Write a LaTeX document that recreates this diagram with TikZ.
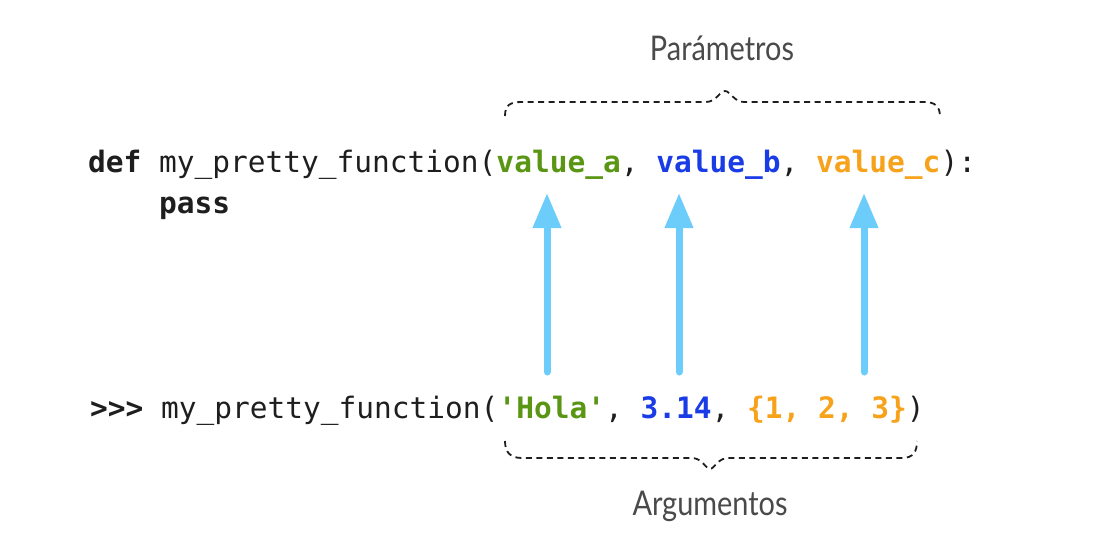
\documentclass[tikz,border=0pt]{standalone}
\usepackage{fontspec}
\setmonofont{DejaVu Sans Mono}
\newfontfamily\labelfont[FakeStretch=0.85]{Lato}
\usetikzlibrary{arrows.meta}

\definecolor{codeink}{HTML}{1E1E1E}
\definecolor{pgreen}{HTML}{5A9614}
\definecolor{pblue}{HTML}{1A3CE6}
\definecolor{porange}{HTML}{F7A21B}
\definecolor{flow}{HTML}{6CCDFA}
\definecolor{notegray}{HTML}{4A4A4A}

\begin{document}
\begin{tikzpicture}[x=1pt,y=-1pt,
  code/.style={inner sep=0pt, outer sep=0pt, anchor=base west, text=codeink,
    font=\fontsize{29.5}{35}\selectfont\ttfamily},
  kw/.style={code, font=\fontsize{29.5}{35}\selectfont\ttfamily\bfseries},
  param/.style={kw, text=#1},
  flowarrow/.style={draw=flow, line width=7pt, line cap=round,
    -{Triangle[width=27pt,length=35pt]}},
  bracepath/.style={draw=codeink, line width=1.8pt, dash pattern=on 6pt off 4.5pt},
  note/.style={inner sep=0pt, text=notegray, font=\fontsize{34}{40}\selectfont\labelfont}]

  \useasboundingbox (0,0) rectangle (1093,546);

  % function definition
  \node[kw] (def) at (88,172) {def};
  \node[code] (fname) at (def.base east) {\ my\_pretty\_function(};
  \node[param=pgreen] (pa) at (fname.base east) {value\_a};
  \node[code] (c1) at (pa.base east) {,\ \null};
  \node[param=pblue] (pb) at (c1.base east) {value\_b};
  \node[code] (c2) at (pb.base east) {,\ \null};
  \node[param=porange] (pc) at (c2.base east) {value\_c};
  \node[code] (close) at (pc.base east) {):};
  \node[kw] (pass) at (159,213) {pass};

  % function call
  \node[kw] (prompt) at (90,418) {>{}>{}>};
  \node[code] (cname) at (prompt.base east) {\ my\_pretty\_function(};
  \node[param=pgreen] (aa) at (cname.base east) {'Hola'};
  \node[code] (d1) at (aa.base east) {,\ \null};
  \node[param=pblue] (ab) at (d1.base east) {3.14};
  \node[code] (d2) at (ab.base east) {,\ \null};
  \node[param=porange] (ac) at (d2.base east) {\{1, 2, 3\}};
  \node[code] (cclose) at (ac.base east) {)};

  % arrows from arguments up to parameters
  \coordinate (fa) at (547,372); \coordinate (ta) at (547,193);
  \coordinate (fb) at (679,372); \coordinate (tb) at (679,193);
  \coordinate (fc) at (864,372); \coordinate (tc) at (864,193);
  \draw[flowarrow] (fa) -- (ta);
  \draw[flowarrow] (fb) -- (tb);
  \draw[flowarrow] (fc) -- (tc);

  % braces
  \draw[bracepath] (505,116) .. controls (505,105) and (510,102) .. (522,102)
    -- (706,102) .. controls (716,102) and (720,91) .. (725,91)
    .. controls (730,91) and (734,102) .. (744,102)
    -- (924,102) .. controls (935,102) and (940,106) .. (940,117);
  \draw[bracepath] (505,441) .. controls (505,452) and (510,458) .. (522,458)
    -- (692,458) .. controls (702,458) and (706,469) .. (710,469)
    .. controls (714,469) and (718,458) .. (728,458)
    -- (902,458) .. controls (913,458) and (917,452) .. (917,441);

  \node[note] (params) at (722,48) {Parámetros};
  \node[note] (args) at (710,506) {Argumentos};
\end{tikzpicture}
\end{document}
